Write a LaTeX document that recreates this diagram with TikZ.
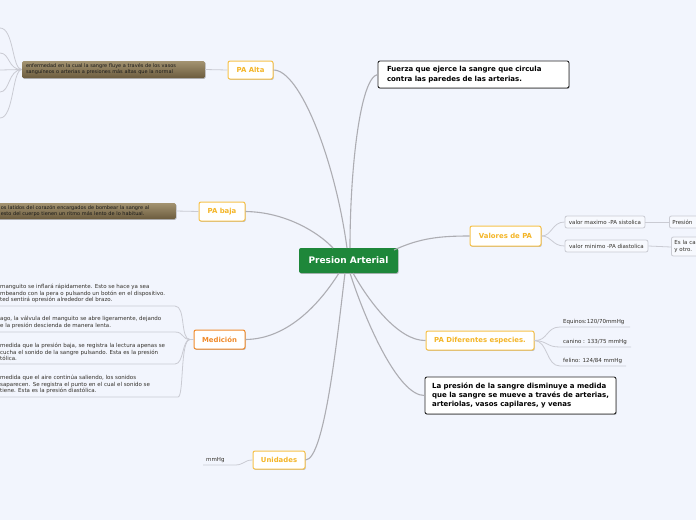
\documentclass[tikz,border=0pt]{standalone}
\usepackage{fontspec}
\setmainfont{DejaVu Sans}
\usetikzlibrary{shadows}
\definecolor{bgc}{HTML}{F2F5FD}
\definecolor{maingreen}{HTML}{1E873A}
\definecolor{yel}{HTML}{F4B526}
\definecolor{yelb}{HTML}{F7C24A}
\definecolor{orn}{HTML}{F08A2A}
\definecolor{conn}{HTML}{ADADB3}
\definecolor{sub}{HTML}{CACBD3}
\definecolor{browntop}{HTML}{A39371}
\definecolor{brownbot}{HTML}{6C5C3E}
\definecolor{txt}{HTML}{33302A}
\tikzset{
  shd/.style={drop shadow={shadow xshift=0.7pt,shadow yshift=-0.9pt,opacity=0.25,fill=black}},
  topic/.style={draw=yelb,line width=1pt,fill=white,rounded corners=2pt,shd,text=yel,
     font=\fontsize{6.9}{8}\selectfont\bfseries,inner sep=0pt},
  brownbox/.style={rounded corners=1.5pt,shd,top color=browntop,bottom color=brownbot,
     text=black!90,font=\fontsize{5}{6}\selectfont,align=left,inner sep=0pt},
  blackbox/.style={draw=black!85,line width=0.9pt,fill=white,rounded corners=2pt,shd,
     font=\fontsize{7}{9.3}\selectfont\bfseries,align=left,inner sep=0pt,text=black},
  smallbox/.style={draw=sub,line width=0.8pt,fill=bgc!60!white,rounded corners=2pt,
     font=\fontsize{5.5}{6.5}\selectfont,text=txt,inner sep=0pt,align=left},
  leaf/.style={font=\fontsize{5.5}{6.6}\selectfont,text=txt,align=left,inner sep=0pt},
  mainc/.style={draw=conn,line width=1.1pt},
  subc/.style={draw=sub,line width=0.8pt},
}
\begin{document}
\begin{tikzpicture}[x=1pt,y=-1pt]
\useasboundingbox (0,0) rectangle (696,520);
\clip (0,0) rectangle (696,520);
\fill[bgc] (0,0) rectangle (696,520);

% ---------- nodes ----------
\node[fill=maingreen,rounded corners=2pt,shd,minimum width=99pt,minimum height=25pt,
  text=white,font=\fontsize{9}{10}\selectfont\bfseries,inner sep=0pt] (center) at (348.5,260.5) {Presion Arterial};

\node[topic,minimum width=45pt,minimum height=18pt] (paalta) at (250.5,70) {PA Alta};
\node[brownbox,minimum width=183pt,minimum height=17pt,text width=175pt] (b1) at (113.5,69.5)
  {enfermedad en la cual la sangre fluye a través de los vasos\\sanguíneos o arterias a presiones más altas que la normal};

\node[topic,minimum width=46pt,minimum height=19pt] (pabaja) at (222,211.5) {PA baja};
\node[brownbox,minimum width=186pt,minimum height=16pt,text width=164pt,anchor=east] (b2) at (176,211)
  {os latidos del corazón encargados de bombear la sangre al\\esto del cuerpo tienen un ritmo más lento de lo habitual.};

\node[topic,draw=orn,text=orn,minimum width=51pt,minimum height=19pt] (medicion) at (219.5,339.5) {Medición};
\node[topic,minimum width=52pt,minimum height=18pt] (unidades) at (279,460) {Unidades};

\node[blackbox,minimum width=191pt,minimum height=27pt,text width=173pt] (fuerza) at (473.5,74.5)
  {Fuerza que ejerce la sangre que circula\\contra las paredes de las arterias.};

\node[topic,minimum width=71pt,minimum height=20pt] (valores) at (505.5,236) {Valores de PA};
\node[smallbox,minimum width=80pt,minimum height=12pt] (v1) at (605,222) {valor maximo -PA sistolica};
\node[smallbox,minimum width=83pt,minimum height=12pt] (v2) at (606.5,246) {valor minimo -PA diastolica};
\node[smallbox,minimum width=40pt,minimum height=12pt,anchor=west,text width=34pt] (g1) at (669,222) {Presión};
\node[smallbox,minimum width=40pt,minimum height=19pt,anchor=west,text width=34pt] (g2) at (671,246.5) {Es la ca\\y otro.};

\node[topic,minimum width=108pt,minimum height=19pt] (padif) at (480,340.5) {PA Diferentes especies.};
\node[leaf,anchor=west] (eq) at (563,322) {Equinos:120/70mmHg};
\node[leaf,anchor=west] (ca) at (563,341.5) {canino : 133/75 mmHg};
\node[leaf,anchor=west] (fe) at (563,361) {felino: 124/84 mmHg};

\node[blackbox,minimum width=191pt,minimum height=37pt] (lapres) at (520.5,395.5)
  {La presión de la sangre disminuye a medida\\que la sangre se mueve a través de arterias,\\arteriolas, vasos capilares, y venas};

% Medicion leaves
\node[leaf,anchor=west] (m1) at (0,293.5) {manguito se inflará rápidamente. Esto se hace ya sea\\mbeando con la pera o pulsando un botón en el dispositivo.\\ted sentirá opresión alrededor del brazo.};
\node[leaf,anchor=west] (m2) at (0,322.5) {ago, la válvula del manguito se abre ligeramente, dejando\\e la presión descienda de manera lenta.};
\node[leaf,anchor=west] (m3) at (0,352) {medida que la presión baja, se registra la lectura apenas se\\cucha el sonido de la sangre pulsando. Esta es la presión\\tólica.};
\node[leaf,anchor=west] (m4) at (0,384.5) {medida que el aire continúa saliendo, los sonidos\\saparecen. Se registra el punto en el cual el sonido se\\tiene. Esta es la presión diastólica.};

\node[leaf,anchor=west] (mm) at (206,460) {mmHg};

% ---------- coordinates for connector ends ----------
\coordinate (ctop) at (347,248);
\coordinate (cbot) at (347,273);
\coordinate (mhub) at (190,339.5);
\coordinate (u1) at (175,306);
\coordinate (u1l) at (0,306);
\coordinate (u2) at (175,332);
\coordinate (u2l) at (0,332);
\coordinate (u3) at (175,364);
\coordinate (u3l) at (0,364);
\coordinate (u4) at (178,397);
\coordinate (u4l) at (0,397);
\coordinate (mmr) at (235,465);
\coordinate (mml) at (203,465);
\coordinate (eqa) at (560,327);
\coordinate (eqb) at (630,327);
\coordinate (caa) at (560,347);
\coordinate (cab) at (631,347);
\coordinate (fea) at (560,366);
\coordinate (feb) at (626,366);
\coordinate (l1) at (0,28);
\coordinate (l2) at (0,53);
\coordinate (l3) at (0,70);
\coordinate (l4) at (0,92);
\coordinate (l5) at (0,118);

% ---------- main connectors ----------
\draw[mainc] (paalta.east) .. controls (300,70) and (335,160) .. (ctop);
\draw[mainc] (fuerza.west) .. controls (360,78) and (350,170) .. ([xshift=3pt]ctop);
\draw[mainc] (pabaja.east) .. controls (285,212) and (318,232) .. ([xshift=-14pt]ctop);
\draw[mainc] (valores.west) .. controls (440,236) and (420,238) .. ([xshift=47pt,yshift=-2pt]ctop);
\draw[mainc] (medicion.east) .. controls (290,339) and (322,300) .. ([xshift=-8pt]cbot);
\draw[mainc] (unidades.east) .. controls (325,460) and (338,330) .. ([xshift=-2pt]cbot);
\draw[mainc] (padif.west) .. controls (398,341) and (368,300) .. ([xshift=6pt]cbot);
\draw[mainc] (lapres.west) .. controls (398,396) and (365,320) .. ([xshift=3pt]cbot);

% ---------- sub connectors ----------
\draw[subc] (b1.west) -- (l3);
\draw[subc] (b1.west) .. controls (12,70) and (14,28) .. (l1);
\draw[subc] (b1.west) .. controls (8,70) and (10,53) .. (l2);
\draw[subc] (b1.west) .. controls (8,70) and (10,92) .. (l4);
\draw[subc] (b1.west) .. controls (12,70) and (14,118) .. (l5);
\draw[subc] (b1.east) -- (paalta.west);
\draw[subc] (b2.east) -- (pabaja.west);

\draw[subc] (mhub) -- (medicion.west);
\draw[subc] (u1l) -- (u1) .. controls (186,306) and (180,339.5) .. (mhub);
\draw[subc] (u2l) -- (u2) .. controls (184,332) and (182,339.5) .. (mhub);
\draw[subc] (u3l) -- (u3) .. controls (184,364) and (182,339.5) .. (mhub);
\draw[subc] (u4l) -- (u4) .. controls (184,397) and (180,339.5) .. (mhub);

\draw[subc] (mml) -- (mmr) .. controls (244,465) and (244,460) .. (unidades.west);

\draw[subc] (valores.east) .. controls (552,236) and (552,222) .. (v1.west);
\draw[subc] (valores.east) .. controls (552,236) and (552,246) .. (v2.west);
\draw[subc] (v1.east) -- (g1.west);
\draw[subc] (v2.east) -- ([yshift=-0.5pt]g2.west);

\draw[subc] (padif.east) .. controls (548,341) and (546,327) .. (eqa) -- (eqb);
\draw[subc] (padif.east) .. controls (548,341) and (546,347) .. (caa) -- (cab);
\draw[subc] (padif.east) .. controls (548,341) and (546,366) .. (fea) -- (feb);
\end{tikzpicture}
\end{document}
